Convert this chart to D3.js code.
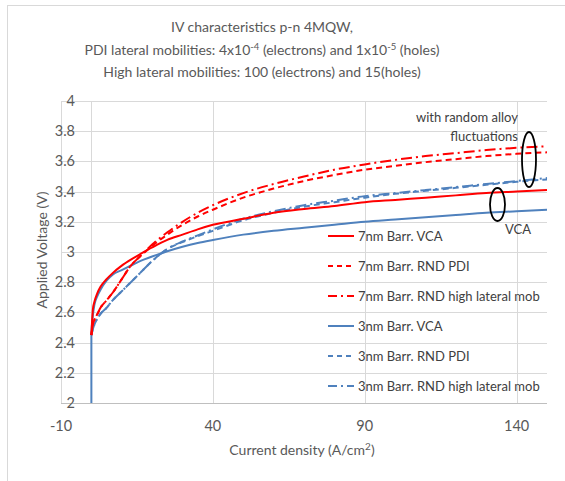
<!DOCTYPE html>
<html>
<head>
<meta charset="utf-8">
<script src="https://cdn.jsdelivr.net/npm/d3@7/dist/d3.min.js"></script>
<style>
  html, body { margin: 0; padding: 0; background: #fff; }
  svg text { font-family: Lato, "Open Sans", sans-serif; }
</style>
</head>
<body>
<svg id="chart" width="565" height="481"></svg>
<script>
// ---------- data ----------
const xTicks = [-10, 40, 90, 140];
const yTicks = [2, 2.2, 2.4, 2.6, 2.8, 3, 3.2, 3.4, 3.6, 3.8, 4];
const current = [0, 0.5, 1, 2, 3, 5, 7, 10, 13, 16, 20, 25, 30, 35, 40, 50, 60, 70, 80, 90, 100, 110, 120, 130, 140, 150];

const v7VCA   = [2.45, 2.62, 2.67, 2.73, 2.77, 2.82, 2.86, 2.91, 2.95, 2.985, 3.03, 3.08, 3.115, 3.15, 3.18, 3.22, 3.26, 3.285, 3.305, 3.33, 3.345, 3.36, 3.375, 3.39, 3.40, 3.41];
const v7PDI   = [2.45, 2.52, 2.55, 2.59, 2.63, 2.68, 2.73, 2.82, 2.91, 2.97, 3.04, 3.115, 3.18, 3.235, 3.28, 3.36, 3.42, 3.47, 3.51, 3.545, 3.57, 3.595, 3.615, 3.635, 3.65, 3.66];
const v7High  = [2.45, 2.52, 2.55, 2.59, 2.63, 2.68, 2.73, 2.82, 2.91, 2.97, 3.05, 3.13, 3.20, 3.26, 3.31, 3.39, 3.45, 3.50, 3.545, 3.58, 3.61, 3.635, 3.655, 3.675, 3.69, 3.70];
const current3VCA = [0].concat(current);
const v3VCA   = [2.0, 2.45, 2.58, 2.65, 2.71, 2.75, 2.81, 2.85, 2.88, 2.91, 2.94, 2.97, 3.005, 3.035, 3.06, 3.08, 3.115, 3.14, 3.16, 3.18, 3.20, 3.215, 3.23, 3.245, 3.26, 3.27, 3.28];
const v3PDI   = [2.45, 2.49, 2.52, 2.56, 2.59, 2.63, 2.68, 2.74, 2.80, 2.86, 2.94, 3.02, 3.065, 3.105, 3.14, 3.21, 3.26, 3.30, 3.33, 3.36, 3.385, 3.405, 3.425, 3.445, 3.465, 3.48];
const v3High  = [2.45, 2.49, 2.52, 2.56, 2.59, 2.63, 2.68, 2.74, 2.80, 2.86, 2.94, 3.02, 3.07, 3.11, 3.15, 3.22, 3.27, 3.31, 3.34, 3.37, 3.39, 3.41, 3.43, 3.45, 3.47, 3.49];

const seriesNames = ["7nm Barr. VCA", "7nm Barr. RND PDI", "7nm Barr. RND high lateral mob",
                     "3nm Barr. VCA", "3nm Barr. RND PDI", "3nm Barr. RND high lateral mob"];

const RED = "#ff0000", BLUE = "#4f81bd";
const series = [
  { name: seriesNames[0], x: current,     y: v7VCA,  color: RED,  dash: null },
  { name: seriesNames[1], x: current,     y: v7PDI,  color: RED,  dash: "6,4" },
  { name: seriesNames[2], x: current,     y: v7High, color: RED,  dash: "11,4,2,4" },
  { name: seriesNames[3], x: current3VCA, y: v3VCA,  color: BLUE, dash: null },
  { name: seriesNames[4], x: current,     y: v3PDI,  color: BLUE, dash: "6,4" },
  { name: seriesNames[5], x: current,     y: v3High, color: BLUE, dash: "11,4,2,4" }
];

// ---------- layout ----------
const svg = d3.select("#chart");
const x = d3.scaleLinear().domain([-10, 150]).range([61, 547]);
const y = d3.scaleLinear().domain([2, 4]).range([403, 101]);

const GRID = "#d9d9d9", TXT = "#595959";

// chart border
svg.append("rect").attr("x", 7.5).attr("y", 5.5).attr("width", 700).attr("height", 600)
  .attr("fill", "none").attr("stroke", GRID).attr("stroke-width", 1);

// title
const title = svg.append("text").attr("text-anchor", "middle").attr("fill", TXT).attr("font-size", 14);
title.append("tspan").attr("x", 262).attr("y", 32).text("IV characteristics p-n 4MQW,");
const t2 = title.append("tspan").attr("x", 262).attr("y", 55);
t2.append("tspan").text("PDI lateral mobilities: 4x10");
t2.append("tspan").attr("font-size", 9.5).attr("dy", -5).text("-4");
t2.append("tspan").attr("dy", 5).text(" (electrons) and 1x10");
t2.append("tspan").attr("font-size", 9.5).attr("dy", -5).text("-5");
t2.append("tspan").attr("dy", 5).text(" (holes)");
title.append("tspan").attr("x", 262).attr("y", 77).text("High lateral mobilities: 100 (electrons) and 15(holes)");

// grid
const g = svg.append("g");
g.selectAll(".hg").data(yTicks.filter(d => d > 2)).enter().append("line")
  .attr("x1", x(-10)).attr("x2", x(150))
  .attr("y1", d => Math.round(y(d)) + 0.5).attr("y2", d => Math.round(y(d)) + 0.5)
  .attr("stroke", GRID);
g.selectAll(".vg").data([0].concat(xTicks.filter(d => d > -10))).enter().append("line")
  .attr("y1", y(4)).attr("y2", y(2))
  .attr("x1", d => Math.round(x(d)) + 0.5).attr("x2", d => Math.round(x(d)) + 0.5)
  .attr("stroke", GRID);
// axis lines
g.append("line").attr("x1", Math.round(x(-10)) + 0.5).attr("x2", Math.round(x(-10)) + 0.5)
  .attr("y1", y(4)).attr("y2", y(2)).attr("stroke", GRID);
g.append("line").attr("x1", x(-10)).attr("x2", x(150))
  .attr("y1", Math.round(y(2)) + 0.5).attr("y2", Math.round(y(2)) + 0.5).attr("stroke", "#bfbfbf");

// y tick labels
svg.append("g").selectAll("text").data(yTicks).enter().append("text")
  .attr("x", 75).attr("y", d => y(d) + 5).attr("text-anchor", "end")
  .attr("font-size", 14.5).attr("fill", TXT).text(d => d);
// x tick labels
svg.append("g").selectAll("text").data(xTicks).enter().append("text")
  .attr("x", d => x(d)).attr("y", 431).attr("text-anchor", "middle")
  .attr("font-size", 14.5).attr("fill", TXT).text(d => d);

// axis titles
const xt = svg.append("text").attr("x", 302).attr("y", 455).attr("text-anchor", "middle")
  .attr("font-size", 14).attr("fill", TXT);
xt.append("tspan").text("Current density (A/cm");
xt.append("tspan").attr("font-size", 10).attr("dy", -5).text("2");
xt.append("tspan").attr("dy", 5).text(")");
svg.append("text").attr("transform", "translate(47,250) rotate(-90)")
  .attr("text-anchor", "middle").attr("font-size", 14).attr("fill", TXT)
  .text("Applied Voltage (V)");

// lines
const line = d3.line().x(d => x(d[0])).y(d => y(d[1])).curve(d3.curveMonotoneX);
const drawOrder = [3, 4, 5, 0, 1, 2];
drawOrder.forEach(i => {
  const s = series[i];
  const pts = s.x.map((xv, j) => [xv, s.y[j]]);
  svg.append("path").attr("d", line(pts)).attr("fill", "none")
    .attr("stroke", s.color).attr("stroke-width", 2)
    .attr("stroke-dasharray", s.dash);
});

// legend
const leg = svg.append("g");
series.forEach((s, i) => {
  const yy = 236 + 30 * i;
  leg.append("line").attr("x1", 328).attr("x2", 354).attr("y1", yy).attr("y2", yy)
    .attr("stroke", s.color).attr("stroke-width", 2)
    .attr("stroke-dasharray", s.dash ? (s.dash === "6,4" ? "5,4" : "9,4,2,4") : null);
  leg.append("text").attr("x", 358).attr("y", yy + 5).attr("font-size", 13)
    .attr("fill", "#404040").text(s.name);
});

// annotations
svg.append("text").attr("x", 518).attr("y", 122).attr("text-anchor", "end")
  .attr("font-size", 13).attr("fill", "#404040").text("with random alloy");
svg.append("text").attr("x", 518).attr("y", 141).attr("text-anchor", "end")
  .attr("font-size", 13).attr("fill", "#404040").text("fluctuations");
svg.append("text").attr("x", 518).attr("y", 234).attr("text-anchor", "middle")
  .attr("font-size", 13).attr("fill", "#404040").text("VCA");
svg.append("ellipse").attr("cx", 529).attr("cy", 159.5).attr("rx", 7).attr("ry", 27.5)
  .attr("fill", "none").attr("stroke", "#000").attr("stroke-width", 1.8);
svg.append("ellipse").attr("cx", 497.5).attr("cy", 204.5).attr("rx", 7.5).attr("ry", 16.5)
  .attr("fill", "none").attr("stroke", "#000").attr("stroke-width", 1.8);
</script>
</body>
</html>
